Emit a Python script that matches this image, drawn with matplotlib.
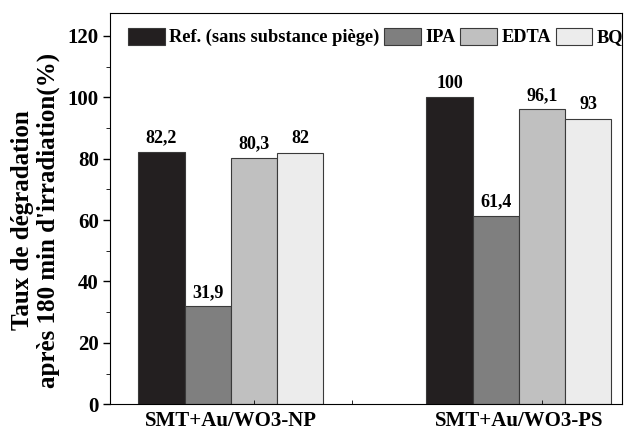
import numpy as np
import matplotlib.pyplot as plt
from matplotlib.ticker import MultipleLocator

plt.rcParams['font.family'] = 'Liberation Serif'
plt.rcParams['font.weight'] = 'bold'

samples = ['SMT+Au/WO3-NP', 'SMT+Au/WO3-PS']
scavengers = ['Ref. (sans substance piège)', 'IPA', 'EDTA', 'BQ']
values = {
    'Ref. (sans substance piège)': [82.2, 100],
    'IPA': [31.9, 61.4],
    'EDTA': [80.3, 96.1],
    'BQ': [82, 93],
}
value_labels = {
    'Ref. (sans substance piège)': ['82,2', '100'],
    'IPA': ['31,9', '61,4'],
    'EDTA': ['80,3', '96,1'],
    'BQ': ['82', '93'],
}
colors = ['#231f20', '#7f7f7f', '#c0c0c0', '#ececec']

fig, ax = plt.subplots(figsize=(6.29, 4.30), dpi=100)
fig.subplots_adjust(left=0.175, right=0.989, top=0.970, bottom=0.060)

group_start = np.array([0.0, 6.22])
width = 1.0
for i, s in enumerate(scavengers):
    xs = group_start + i * width
    ax.bar(xs, values[s], width=width, color=colors[i], edgecolor='#3a3a3a',
           linewidth=0.8, label=s)
    for x, v, t in zip(xs, values[s], value_labels[s]):
        ax.text(x, v + 1.8, t, ha='center', va='bottom', fontsize=13, fontweight='bold')

ax.set_xlim(-1.11, 9.95)
ax.set_ylim(0, 127.5)
ax.yaxis.set_major_locator(MultipleLocator(20))
ax.yaxis.set_minor_locator(MultipleLocator(10))
ax.tick_params(axis='y', which='major', direction='out', length=5, width=1,
               labelsize=15, pad=3)
ax.tick_params(axis='y', which='minor', direction='out', length=3)

centers = group_start + 1.5
ax.set_xticks(centers)
ax.set_xticklabels(samples, fontsize=15, fontweight='bold')
ax.tick_params(axis='x', which='major', length=0, pad=5)
ax.set_xticks([group_start[0] + 2, group_start.mean() + 1, group_start[1] + 2], minor=True)
ax.tick_params(axis='x', which='minor', direction='in', length=3)

for lab in ax.get_yticklabels():
    lab.set_fontweight('bold')

ax.set_ylabel("Taux de dégradation\naprès 180 min d'irradiation(%)", fontsize=18,
              fontweight='bold', linespacing=1.15)
ax.yaxis.set_label_coords(-0.098, 0.47)

ax.legend(loc='center left', bbox_to_anchor=(0.035, 1 - 24 / 391), ncol=4,
          frameon=False, handlelength=2.0, handleheight=1.05, columnspacing=0.25,
          handletextpad=0.25, borderpad=0, borderaxespad=0,
          prop={'weight': 'bold', 'size': 13.2})

plt.savefig('out.png', dpi=100)
